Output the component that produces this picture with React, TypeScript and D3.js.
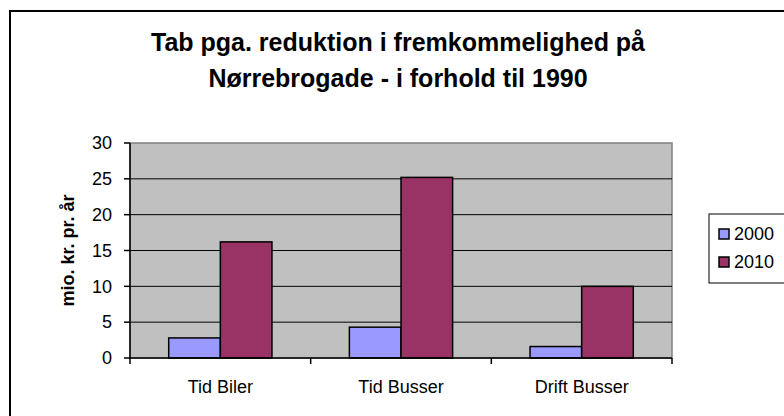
import { useMemo } from 'react';
import * as d3 from 'd3';

const categories = ['Tid Biler', 'Tid Busser', 'Drift Busser'];
const seriesNames = ['2000', '2010'];
const values2000 = [2.8, 4.3, 1.6];
const values2010 = [16.2, 25.2, 10.0];
const yTicks = [0, 5, 10, 15, 20, 25, 30];
const colors = ['#9999FF', '#993366'];

const FONT = "'Liberation Sans', Arial, sans-serif";

const plot = { left: 130, right: 672, top: 143, bottom: 358 };

const App = () => {
  const data = useMemo(
    () => categories.map((c, i) => ({ cat: c, vals: [values2000[i], values2010[i]] })),
    []
  );

  const xScale = useMemo(() => d3.scaleBand().domain(categories).range([plot.left, plot.right]).padding(0), []);

  // gap width 150% of a bar
  const innerScale = useMemo(() => {
    const bw = xScale.bandwidth();
    const bar = bw / 3.5;
    return d3.scaleBand().domain(seriesNames).range([bar * 0.75, bw - bar * 0.75]).padding(0);
  }, [xScale]);

  const yScale = useMemo(() => d3.scaleLinear().domain([0, 30]).range([plot.bottom, plot.top]), []);

  const boundaries = [...categories.map(c => xScale(c) as number), plot.right];

  return (
    <svg
      width={784}
      height={416}
      style={{ position: 'absolute', left: 0, top: 0, background: '#fff' }}
      fontFamily={FONT}
    >
      {/* outer chart border */}
      <rect x={10} y={11} width={800} height={420} fill="#fff" stroke="#000" strokeWidth={2} />

      {/* title */}
      <text x={398} y={51} textAnchor="middle" fontSize={25} fontWeight="bold">
        Tab pga. reduktion i fremkommelighed på
      </text>
      <text x={398} y={87} textAnchor="middle" fontSize={25} fontWeight="bold">
        Nørrebrogade - i forhold til 1990
      </text>

      {/* plot area */}
      <rect
        x={plot.left}
        y={plot.top}
        width={plot.right - plot.left}
        height={plot.bottom - plot.top}
        fill="#C0C0C0"
        stroke="#808080"
        strokeWidth={1.5}
      />

      {/* gridlines */}
      {yTicks.filter(t => t > 0 && t < 30).map(t => (
        <line key={t} x1={plot.left} x2={plot.right} y1={yScale(t)} y2={yScale(t)} stroke="#000" strokeWidth={1} />
      ))}

      {/* bars */}
      {data.map(d => (
        <g key={d.cat} transform={`translate(${xScale(d.cat)},0)`}>
          {d.vals.map((v, i) => (
            <rect
              key={i}
              x={innerScale(seriesNames[i])}
              y={yScale(v)}
              width={innerScale.bandwidth()}
              height={plot.bottom - yScale(v)}
              fill={colors[i]}
              stroke="#000"
              strokeWidth={1.5}
            />
          ))}
        </g>
      ))}

      {/* y axis */}
      <line x1={plot.left} x2={plot.left} y1={plot.top} y2={plot.bottom} stroke="#000" strokeWidth={1.5} />
      {yTicks.map(t => (
        <g key={t}>
          <line x1={plot.left - 6} x2={plot.left} y1={yScale(t)} y2={yScale(t)} stroke="#000" strokeWidth={1.5} />
          <text x={plot.left - 18} y={yScale(t)} dy="0.35em" textAnchor="end" fontSize={18}>
            {t}
          </text>
        </g>
      ))}

      {/* x axis */}
      <line x1={plot.left} x2={plot.right} y1={plot.bottom} y2={plot.bottom} stroke="#000" strokeWidth={1.5} />
      {boundaries.map((b, i) => (
        <line key={i} x1={b} x2={b} y1={plot.bottom} y2={plot.bottom + 6} stroke="#000" strokeWidth={1.5} />
      ))}
      {categories.map(c => (
        <text
          key={c}
          x={(xScale(c) as number) + xScale.bandwidth() / 2}
          y={387}
          dy="0.35em"
          textAnchor="middle"
          fontSize={18}
        >
          {c}
        </text>
      ))}

      {/* y axis title */}
      <text
        transform={`translate(68,${(plot.top + plot.bottom) / 2}) rotate(-90)`}
        textAnchor="middle"
        dy="0.35em"
        fontSize={18}
        fontWeight="bold"
      >
        mio. kr. pr. år
      </text>

      {/* legend */}
      <rect x={709} y={214} width={90} height={69} fill="#fff" stroke="#000" strokeWidth={1} />
      {seriesNames.map((s, i) => (
        <g key={s} transform={`translate(719,${234 + i * 28})`}>
          <rect x={0} y={-5} width={10} height={10} fill={colors[i]} stroke="#000" strokeWidth={1.5} />
          <text x={15} y={0} dy="0.35em" fontSize={18}>
            {s}
          </text>
        </g>
      ))}
    </svg>
  );
};

export default App;
